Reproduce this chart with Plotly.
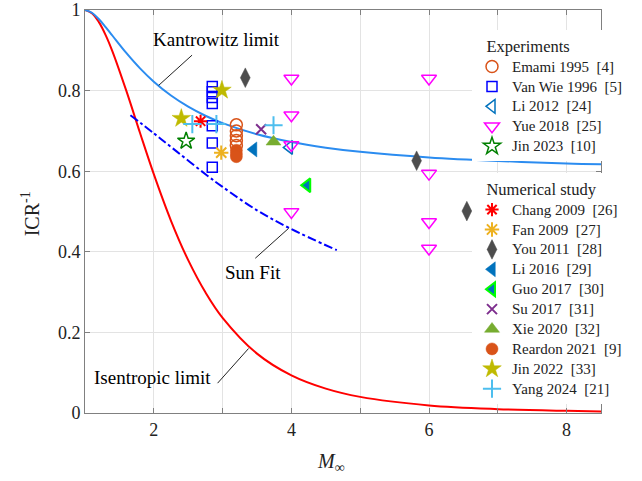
import plotly.graph_objects as go

# ---------------- data ----------------
mach_curve = [1, 1.1, 1.2, 1.3, 1.4, 1.6, 1.8, 2.0, 2.25, 2.5, 2.75, 3.0, 3.5, 4.0, 4.5, 5.0, 6.0, 7.0, 8.0, 8.5]
isentropic = [1, 0.9921, 0.9705, 0.9378, 0.8969, 0.7998, 0.6949, 0.5926, 0.4770, 0.3793, 0.2996, 0.2362,
              0.1473, 0.0933, 0.0604, 0.0400, 0.0188, 0.0096, 0.0053, 0.0040]
kantrowitz = [1, 0.9932, 0.9776, 0.9576, 0.9361, 0.8934, 0.8551, 0.8221, 0.7877, 0.7601, 0.7376, 0.7194,
              0.6916, 0.6723, 0.6584, 0.6481, 0.6341, 0.6254, 0.6193, 0.6173]

sun_mach = [1.66, 2.0, 2.34, 2.77, 3.0, 3.5, 3.98, 4.66]
sun_fit = [0.739, 0.694, 0.648, 0.590, 0.561, 0.503, 0.458, 0.404]

# Experiments
emami_M = [3.2, 3.2, 3.2, 3.2, 3.2]
emami_y = [0.715, 0.700, 0.688, 0.676, 0.664]
vanwie_M = [2.85, 2.85, 2.85, 2.85, 2.85, 2.85, 2.85]
vanwie_y = [0.810, 0.797, 0.783, 0.768, 0.713, 0.670, 0.610]
li2012_M = [3.97]
li2012_y = [0.659]
yue_M = [4.0, 4.0, 4.0, 4.0, 6.0, 6.0, 6.0, 6.0]
yue_y = [0.830, 0.739, 0.665, 0.499, 0.830, 0.594, 0.474, 0.408]
jin2023_M = [2.47]
jin2023_y = [0.675]

# Numerical study
chang_M = [2.68]
chang_y = [0.724]
fan_M = [2.98]
fan_y = [0.646]
you_M = [3.33, 5.82, 6.55]
you_y = [0.832, 0.626, 0.501]
li2016_M = [3.45]
li2016_y = [0.654]
guo_M = [4.23]
guo_y = [0.565]
su_M = [3.56]
su_y = [0.704]
xie_M = [3.74]
xie_y = [0.673]
reardon_M = [3.2, 3.2, 3.2]
reardon_y = [0.652, 0.643, 0.636]
jin2022_M = [2.40, 2.99]
jin2022_y = [0.731, 0.801]
yang_M = [2.56, 2.91, 3.74]
yang_y = [0.717, 0.717, 0.714]

x_ticks = [2, 4, 6, 8]
x_minor = [1, 3, 5, 7]
y_ticks = [0, 0.2, 0.4, 0.6, 0.8, 1]
y_ticktext = ["0", "0.2", "0.4", "0.6", "0.8", "1"]

# label texts and their leader lines (annotation positions)
label_text = ["Kantrowitz limit", "Sun Fit", "Isentropic limit"]
label_pos = [(2.91, 0.927), (3.44, 0.348), (1.975, 0.087)]
leader_lines = [((2.556, 0.888), (2.071, 0.813)),
                ((3.475, 0.384), (3.958, 0.458)),
                ((2.927, 0.074), (3.377, 0.160))]

SERIF = "Liberation Serif"
TXT = "#222222"

fig = go.Figure()

fig.add_trace(go.Scatter(x=mach_curve, y=isentropic, mode="lines", line=dict(color="#FF0000", width=2, shape="spline"),
                         showlegend=False, hoverinfo="skip"))
fig.add_trace(go.Scatter(x=mach_curve, y=kantrowitz, mode="lines", line=dict(color="#2B8CF0", width=2, shape="spline"),
                         showlegend=False, hoverinfo="skip"))
fig.add_trace(go.Scatter(x=sun_mach, y=sun_fit, mode="lines",
                         line=dict(color="#0000FF", width=2, dash="dashdot", shape="spline"),
                         showlegend=False, hoverinfo="skip"))


def add(name, xs, ys, symbol, color, size, legend, lw=1.5, linecolor=None):
    fig.add_trace(go.Scatter(
        x=xs, y=ys, mode="markers", legend=legend,
        name=f'<span style="font-size:15px">{name}</span>',
        marker=dict(symbol=symbol, color=color, size=size,
                    line=dict(color=linecolor if linecolor else color, width=lw))))


NB = "\u00a0"
add(f"Emami 1995{NB}{NB}[4]", emami_M, emami_y, "circle-open", "#D95319", 12, "legend")
add(f"Van Wie 1996{NB}{NB}[5]", vanwie_M, vanwie_y, "square-open", "#0000FF", 10, "legend")
add(f"Li 2012{NB}{NB}[24]", li2012_M, li2012_y, "triangle-left-open", "#0072BD", 12, "legend")
add(f"Yue 2018{NB}{NB}[25]", yue_M, yue_y, "triangle-down-open", "#FF00FF", 13, "legend")
add(f"Jin 2023{NB}{NB}[10]", jin2023_M, jin2023_y, "star-open", "#008000", 13, "legend")

add(f"Chang 2009{NB}{NB}[26]", chang_M, chang_y, "asterisk-open", "#FF0000", 11, "legend2", lw=2)
add(f"Fan 2009{NB}{NB}[27]", fan_M, fan_y, "asterisk-open", "#EDB120", 12, "legend2", lw=2)
add(f"You 2011{NB}{NB}[28]", you_M, you_y, "diamond-tall", "#4D4D4D", 14, "legend2", lw=0.5)
add(f"Li 2016{NB}{NB}[29]", li2016_M, li2016_y, "triangle-left", "#0072BD", 13, "legend2", lw=0.5)
add(f"Guo 2017{NB}{NB}[30]", guo_M, guo_y, "triangle-left", "#0072BD", 12, "legend2", lw=2, linecolor="#00FF00")
add(f"Su 2017{NB}{NB}[31]", su_M, su_y, "x-thin-open", "#7E2F8E", 10, "legend2", lw=2)
add(f"Xie 2020{NB}{NB}[32]", xie_M, xie_y, "triangle-up", "#77AC30", 13, "legend2", lw=0.5)
add(f"Reardon 2021{NB}{NB}[9]", reardon_M, reardon_y, "circle", "#D95319", 12, "legend2", lw=0.5)
add(f"Jin 2022{NB}{NB}[33]", jin2022_M, jin2022_y, "star", "#BFBA00", 14, "legend2", lw=0.5)
add(f"Yang 2024{NB}{NB}[21]", yang_M, yang_y, "cross-thin-open", "#4DBEEE", 13, "legend2", lw=2)

for (x0, y0), (x1, y1) in leader_lines:
    fig.add_shape(type="line", x0=x0, y0=y0, x1=x1, y1=y1, xref="x", yref="y",
                  line=dict(color="#222222", width=1))

for txt, (lx, ly) in zip(label_text, label_pos):
    fig.add_annotation(x=lx, y=ly, text=txt, showarrow=False, xref="x", yref="y",
                       font=dict(family=SERIF, size=19, color="black"))

# axis titles
fig.add_annotation(x=0.477, y=-0.122, xref="paper", yref="paper", text="<i>M</i><sub>∞</sub>",
                   showarrow=False, xanchor="center", yanchor="middle",
                   font=dict(family=SERIF, size=20, color=TXT))
fig.add_annotation(x=-0.107, y=0.495, xref="paper", yref="paper", text="ICR<sup>-1</sup>",
                   showarrow=False, xanchor="center", yanchor="middle", textangle=-90,
                   font=dict(family=SERIF, size=20, color=TXT))

axis_common = dict(showline=True, linecolor="#808080", linewidth=1, mirror="ticks", ticks="inside",
                   ticklen=5, tickcolor="#808080", showgrid=True, gridcolor="#E3E3E3", gridwidth=1,
                   zeroline=False, automargin=False, tickfont=dict(family=SERIF, size=18, color=TXT))

fig.update_layout(
    width=642, height=481,
    margin=dict(l=84.5, r=40.7, t=9.7, b=68),
    paper_bgcolor="white", plot_bgcolor="white",
    xaxis=dict(range=[1, 8.5], tickvals=x_ticks, ticktext=[str(v) for v in x_ticks],
               minor=dict(tickvals=x_minor, ticks="inside", ticklen=5, tickcolor="#808080",
                          showgrid=True, gridcolor="#E3E3E3"),
               **axis_common),
    yaxis=dict(range=[0, 1], tickvals=y_ticks, ticktext=y_ticktext, **axis_common),
    legend=dict(x=0.75, y=0.95, xanchor="left", yanchor="top", bgcolor="white", borderwidth=0,
                font=dict(family=SERIF, size=13, color=TXT),
                title=dict(text=f"{NB}{NB}{NB}Experiments", font=dict(family=SERIF, size=16.5, color=TXT)),
                itemwidth=30, tracegroupgap=0),
    legend2=dict(x=0.75, y=0.595, xanchor="left", yanchor="top", bgcolor="white", borderwidth=0,
                 font=dict(family=SERIF, size=13, color=TXT),
                 title=dict(text=f"{NB}{NB}{NB}Numerical study", font=dict(family=SERIF, size=16.5, color=TXT)),
                 itemwidth=30, tracegroupgap=0),
    showlegend=True,
)

fig.write_html("out.html")
